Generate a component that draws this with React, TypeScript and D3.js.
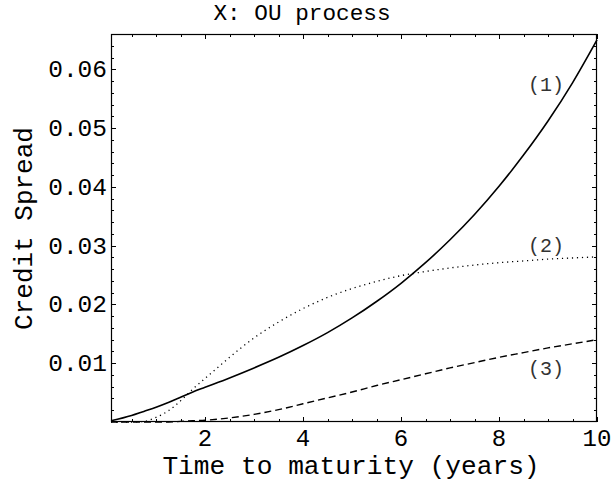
import React, { useEffect, useRef } from "react";
import * as d3 from "d3";

const WIDTH = 611;
const HEIGHT = 487;

// time to maturity (years)
const maturity = [0.08, 0.5, 0.75, 1, 1.25, 1.5, 1.75, 2, 2.5, 3, 3.5, 4, 4.5, 5, 5.5, 6, 6.5, 7, 7.5, 8, 8.5, 9, 9.5, 10];

// credit spread, curve (1) solid
const spread1 = [0.0002, 0.0011, 0.0018, 0.0025, 0.0033, 0.0042, 0.0051, 0.0059, 0.0075, 0.0092, 0.011, 0.013, 0.0152, 0.0177, 0.0205, 0.0236, 0.0271, 0.031, 0.0353, 0.0401, 0.0454, 0.0512, 0.0577, 0.065];
// curve (2) dotted
const spread2 = [0, 0, 0.0001, 0.0008, 0.0019, 0.0036, 0.0056, 0.0074, 0.011, 0.0143, 0.017, 0.0193, 0.0212, 0.0227, 0.0239, 0.0249, 0.0256, 0.0262, 0.0267, 0.0271, 0.0274, 0.0277, 0.0279, 0.0281];
// curve (3) dashed
const spread3 = [0, 0, 0, 0, 0, 0.0001, 0.0002, 0.0003, 0.0007, 0.0013, 0.0021, 0.0031, 0.0041, 0.0051, 0.0062, 0.0072, 0.0082, 0.0092, 0.0101, 0.011, 0.0118, 0.0126, 0.0133, 0.014];

const xTicks = [2, 4, 6, 8, 10];
const yTicks = [0.01, 0.02, 0.03, 0.04, 0.05, 0.06];

const curveLabels = [
  { text: "(1)", x: 8.96, y: 0.0563 },
  { text: "(2)", x: 8.96, y: 0.0289 },
  { text: "(3)", x: 8.96, y: 0.008 },
];

const FONT = "'Liberation Mono', 'Courier New', Courier, monospace";

const App: React.FC = () => {
  const ref = useRef<SVGSVGElement>(null);

  useEffect(() => {
    if (!ref.current) return;
    const svg = d3.select(ref.current);
    svg.selectAll("*").remove();

    const margin = { top: 34, right: 14, bottom: 65, left: 111 };
    const width = WIDTH - margin.left - margin.right;
    const height = HEIGHT - margin.top - margin.bottom;

    const x = d3.scaleLinear().domain([0.08, 10]).range([0, width]);
    const y = d3.scaleLinear().domain([0, 0.066]).range([height, 0]);

    const g = svg
      .append("g")
      .attr("transform", `translate(${margin.left},${margin.top})`);

    const xMinor = d3.range(0.5, 10.01, 0.5).filter((v) => !xTicks.includes(v));
    const yMinor = d3
      .range(0.002, 0.0651, 0.002)
      .filter((v) => !yTicks.some((t) => Math.abs(t - v) < 1e-6));

    // ticks on all four sides, pointing inwards
    const tickG = g.append("g").attr("stroke", "#000").attr("stroke-width", 1);
    const addX = (vals: number[], len: number) => {
      vals.forEach((v) => {
        const px = Math.round(x(v)) + 0.5;
        tickG.append("line").attr("x1", px).attr("x2", px).attr("y1", height).attr("y2", height - len);
        tickG.append("line").attr("x1", px).attr("x2", px).attr("y1", 0).attr("y2", len);
      });
    };
    const addY = (vals: number[], len: number) => {
      vals.forEach((v) => {
        const py = Math.round(y(v)) + 0.5;
        tickG.append("line").attr("y1", py).attr("y2", py).attr("x1", 0).attr("x2", len);
        tickG.append("line").attr("y1", py).attr("y2", py).attr("x1", width).attr("x2", width - len);
      });
    };
    addX(xTicks, 5);
    addX(xMinor, 3);
    addY(yTicks, 5);
    addY(yMinor, 3);

    // tick labels
    g.selectAll("text.xt")
      .data(xTicks)
      .enter()
      .append("text")
      .attr("class", "xt")
      .attr("x", (d) => x(d))
      .attr("y", height + 24)
      .attr("text-anchor", "middle")
      .style("font-family", FONT)
      .style("font-size", "24px")
      .text((d) => d3.format("d")(d));

    g.selectAll("text.yt")
      .data(yTicks)
      .enter()
      .append("text")
      .attr("class", "yt")
      .attr("x", -4)
      .attr("y", (d) => y(d) + 8)
      .attr("text-anchor", "end")
      .style("font-family", FONT)
      .style("font-size", "24.5px")
      .text((d) => d3.format(".2f")(d));

    // curves
    const series = [
      { values: spread1, dash: null, width: 1.6 },
      { values: spread2, dash: "1.2,3.8", width: 1.3 },
      { values: spread3, dash: "7,4", width: 1.4 },
    ];
    const line = d3
      .line<number>()
      .x((_, i) => x(maturity[i]))
      .y((d) => y(d))
      .curve(d3.curveMonotoneX);

    series.forEach((s) => {
      const p = g
        .append("path")
        .datum(s.values)
        .attr("fill", "none")
        .attr("stroke", "#000")
        .attr("stroke-width", s.width)
        .attr("d", line);
      if (s.dash) p.attr("stroke-dasharray", s.dash);
    });

    // frame
    g.append("rect")
      .attr("x", 0.5)
      .attr("y", 0.5)
      .attr("width", width - 1)
      .attr("height", height - 1)
      .attr("fill", "none")
      .attr("stroke", "#000")
      .attr("stroke-width", 1.2);

    // curve labels
    g.selectAll("text.cl")
      .data(curveLabels)
      .enter()
      .append("text")
      .attr("class", "cl")
      .attr("x", (d) => x(d.x))
      .attr("y", (d) => y(d.y))
      .attr("text-anchor", "middle")
      .attr("fill", "#333")
      .style("font-family", FONT)
      .style("font-size", "20px")
      .text((d) => d.text);

    // title and axis titles
    svg
      .append("text")
      .attr("x", 302)
      .attr("y", 20)
      .attr("text-anchor", "middle")
      .style("font-family", FONT)
      .style("font-size", "22.7px")
      .text("X: OU process");

    svg
      .append("text")
      .attr("x", 351)
      .attr("y", 474)
      .attr("text-anchor", "middle")
      .style("font-family", FONT)
      .style("font-size", "26.2px")
      .text("Time to maturity (years)");

    svg
      .append("text")
      .attr("transform", "translate(32,228.5) rotate(-90)")
      .attr("text-anchor", "middle")
      .style("font-family", FONT)
      .style("font-size", "26px")
      .text("Credit Spread");
  }, []);

  return (
    <div style={{ position: "absolute", left: 0, top: 0 }}>
      <svg
        ref={ref}
        width={WIDTH}
        height={HEIGHT}
        viewBox={`0 0 ${WIDTH} ${HEIGHT}`}
        style={{ display: "block", background: "#fff" }}
      />
    </div>
  );
};

export default App;
